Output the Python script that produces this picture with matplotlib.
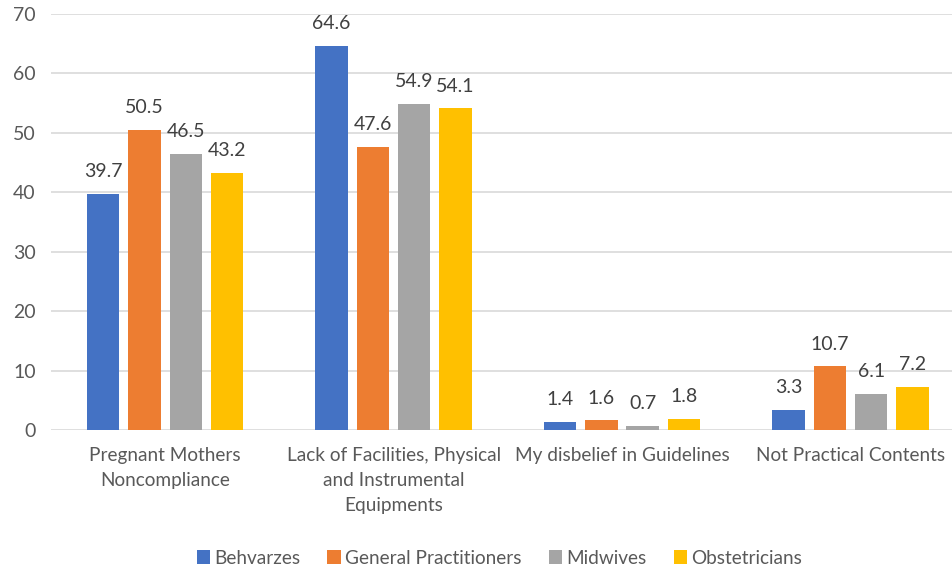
import matplotlib
matplotlib.use("Agg")
import matplotlib.pyplot as plt
import numpy as np

categories = ["Pregnant Mothers\nNoncompliance",
              "Lack of Facilities, Physical\nand Instrumental\nEquipments",
              "My disbelief in Guidelines",
              "Not Practical Contents"]
series_names = ["Behvarzes", "General Practitioners", "Midwives", "Obstetricians"]
behvarzes = [39.7, 64.6, 1.4, 3.3]
general_practitioners = [50.5, 47.6, 1.6, 10.7]
midwives = [46.5, 54.9, 0.7, 6.1]
obstetricians = [43.2, 54.1, 1.8, 7.2]
colors = ["#4472C4", "#ED7D31", "#A5A5A5", "#FFC000"]
yticks = [0, 10, 20, 30, 40, 50, 60, 70]

plt.rcParams['font.family'] = ['Lato', 'DejaVu Sans']
txt = "#595959"
fs = 13.7

fig = plt.figure(figsize=(9.53, 5.70), dpi=100)
ax = fig.add_axes([51/953, 1-430/570, 913.6/953, 416/570])

x = np.arange(len(categories))
step = 0.181
width = 0.142
all_series = [behvarzes, general_practitioners, midwives, obstetricians]
for i, (name, vals, c) in enumerate(zip(series_names, all_series, colors)):
    pos = x + (i - 1.5) * step
    bars = ax.bar(pos, vals, width=width, color=c, label=name, zorder=3)
    for b, v in zip(bars, vals):
        ax.annotate(f"{v}", (b.get_x() + b.get_width()/2, v),
                    xytext=(0, 10), textcoords="offset points",
                    ha="center", va="bottom", fontsize=14, color="#404040")

ax.set_xlim(-0.5, len(categories) - 0.5)
ax.set_ylim(0, 70)
ax.set_yticks(yticks)
ax.set_yticklabels([str(t) for t in yticks])
ax.set_xticks(x)
ax.set_xticklabels(categories, fontsize=fs, color=txt, linespacing=1.6)
ax.tick_params(axis='y', labelsize=14, labelcolor=txt, length=0, pad=11)
ax.tick_params(axis='x', length=0, pad=12)
ax.grid(axis='y', color="#D9D9D9", linewidth=1.2, zorder=0)
for s in ax.spines.values():
    s.set_visible(False)

leg = fig.legend(loc="center", bbox_to_anchor=(499.5/953, 1-558/570), ncol=4,
                 frameon=False, fontsize=fs, handlelength=0.7, handleheight=0.7,
                 handletextpad=0.25, columnspacing=1.4)
for t in leg.get_texts():
    t.set_color(txt)

fig.savefig("out.png", dpi=100)
